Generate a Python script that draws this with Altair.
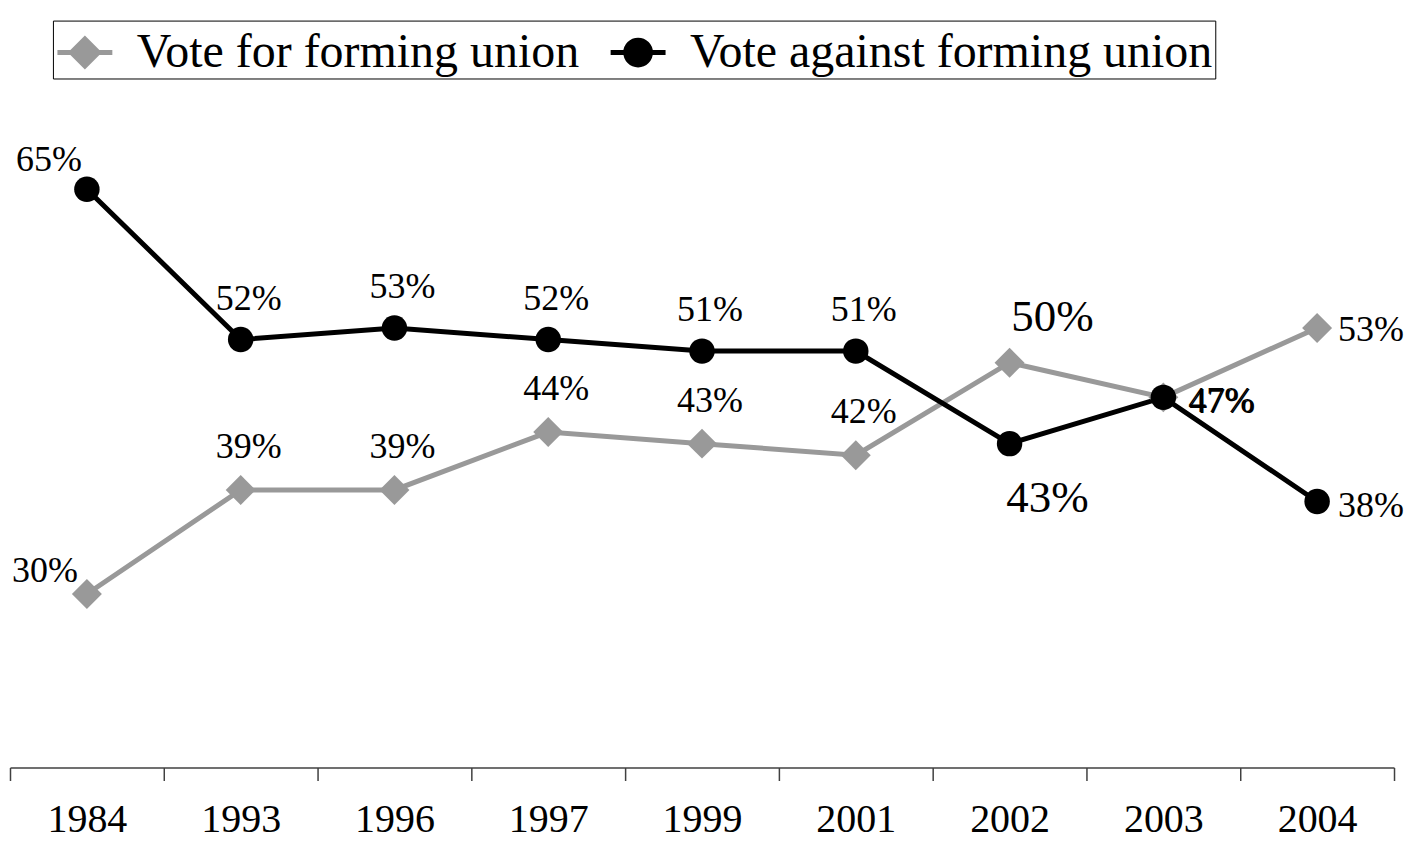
import altair as alt
import pandas as pd
import json

years = ["1984", "1993", "1996", "1997", "1999", "2001", "2002", "2003", "2004"]
vote_for = [30, 39, 39, 44, 43, 42, 50, 47, 53]
vote_against = [65, 52, 53, 52, 51, 51, 43, 47, 38]
series_names = ["Vote for forming union", "Vote against forming union"]
series_colors = ["#999999", "#000000"]

rows = []
for y, v in zip(years, vote_for):
    rows.append({"year": y, "series": series_names[0], "value": v, "label": f"{v}%"})
for y, v in zip(years, vote_against):
    rows.append({"year": y, "series": series_names[1], "value": v, "label": f"{v}%"})
df = pd.DataFrame(rows)

FONT = "Liberation Serif"

x_enc = alt.X("year:N", sort=years,
              scale=alt.Scale(type="band", paddingInner=0, paddingOuter=0),
              axis=alt.Axis(title=None, tickBand="extent", labelFontSize=40, labelFont=FONT,
                            labelColor="#000000", domainColor="#404040", tickColor="#404040",
                            domainWidth=1.5, tickWidth=1.5, tickSize=13, labelPadding=19,
                            labelAngle=0, grid=False))
y_enc = alt.Y("value:Q", scale=alt.Scale(domain=[15, 75], nice=False, zero=False), axis=None)

# legend glyphs: a line through a (solid, built from concentric strokes) marker
diamond_path = "M-1,0H1" + "".join(
    f"M0,-{d}L{d},0L0,{d}L-{d},0Z" for d in (0.49, 0.37, 0.25, 0.13, 0.03))
circle_path = "M-1,0H1" + "".join(
    f"M{r},0A{r},{r},0,1,0,-{r},0A{r},{r},0,1,0,{r},0Z" for r in (0.45, 0.33, 0.21, 0.09))

legend = alt.Legend(
    title=None, orient="none", legendX=43, legendY=-53, direction="horizontal",
    labelFont=FONT, labelFontSize=48, labelColor="#000000", labelOffset=22, labelLimit=2000,
    columnPadding=20, symbolSize=3025, symbolStrokeWidth=5, symbolOpacity=1, padding=2,
    strokeColor="#000000", fillColor="#ffffff",
)

color_enc = alt.Color("series:N", scale=alt.Scale(domain=series_names, range=series_colors),
                      sort=series_names, legend=legend)
shape_enc = alt.Shape("series:N", scale=alt.Scale(domain=series_names, range=[diamond_path, circle_path]),
                      sort=series_names, legend=legend)

base = alt.Chart(df)

legend_layer = base.transform_filter("false").mark_point(filled=False, strokeWidth=5, opacity=1).encode(
    x=x_enc, y=y_enc, color=color_enc, shape=shape_enc)

lines = base.mark_line(strokeWidth=5).encode(x=x_enc, y=y_enc, color=color_enc, detail="series:N")

pts_for = base.transform_filter(f"datum.series == '{series_names[0]}'").mark_point(
    shape="diamond", size=900, filled=True, opacity=1, color=series_colors[0]).encode(x=x_enc, y=y_enc)
pts_against = base.transform_filter(f"datum.series == '{series_names[1]}'").mark_point(
    shape="circle", size=650, filled=True, opacity=1, color=series_colors[1]).encode(x=x_enc, y=y_enc)


def labels(series, yrs, size=36, **kw):
    expr = f"datum.series == '{series}' && indexof({json.dumps(yrs)}, datum.year) >= 0"
    return base.transform_filter(expr).mark_text(
        font=FONT, fontSize=size, color="#000000", baseline="middle", **kw).encode(
        x=x_enc, y=y_enc, text="label:N")


mid = ["1993", "1996", "1997", "1999", "2001"]
layers = [
    legend_layer, lines, pts_for, pts_against,
    labels(series_names[0], mid, dx=8, dy=-43),
    labels(series_names[1], mid, dx=8, dy=-41),
    labels(series_names[0], ["1984"], align="right", dx=-9, dy=-23),
    labels(series_names[1], ["1984"], align="right", dx=-5, dy=-29),
    labels(series_names[0], ["2002"], size=45, dx=43, dy=-46),
    labels(series_names[1], ["2002"], size=45, dx=38, dy=54),
    labels(series_names[0], ["2003"], align="left", dx=25, dy=4),
    labels(series_names[1], ["2003"], align="left", dx=26, dy=5),
    labels(series_names[0], ["2004"], align="left", dx=21, dy=2),
    labels(series_names[1], ["2004"], align="left", dx=21, dy=5),
]

chart = alt.layer(*layers).properties(
    width=1386, height=695,
    background="#ffffff",
    autosize=alt.AutoSizeParams(type="none"),
    padding={"left": 2, "top": 65, "right": 10, "bottom": 75},
).configure_view(stroke=None, strokeWidth=0)

chart.save("out.html", embed_options={"renderer": "svg", "actions": False})
